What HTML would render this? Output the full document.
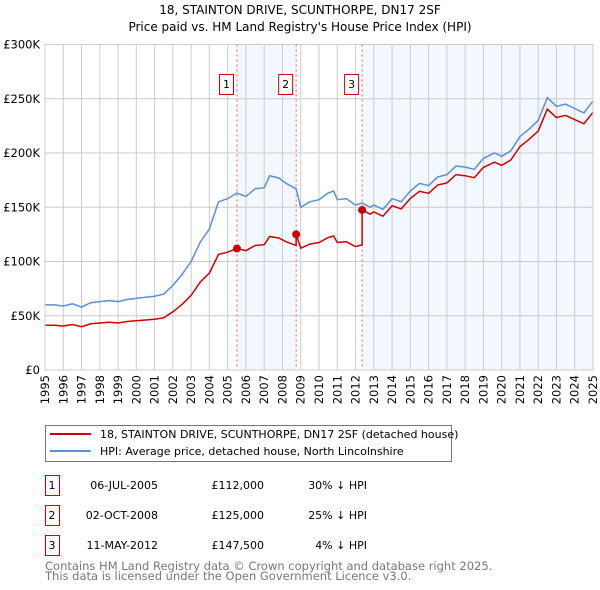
<!DOCTYPE html>
<html><head><meta charset="utf-8"><style>
body{margin:0;background:#fff;}
svg{display:block;font-family:"DejaVu Sans","Liberation Sans",sans-serif;}
</style></head><body>
<svg id="c" width="600" height="590" viewBox="0 0 600 590">
<text x="300" y="14" text-anchor="middle" font-size="12">18, STAINTON DRIVE, SCUNTHORPE, DN17 2SF</text>
<text x="300" y="31" text-anchor="middle" font-size="12">Price paid vs. HM Land Registry's House Price Index (HPI)</text>
<g id="plot"></g>
<g>
<rect x="45.5" y="425.5" width="406" height="36" fill="#fff" stroke="#777"/>
<line x1="50" y1="434" x2="91" y2="434" stroke="#cc0000" stroke-width="2"/>
<text x="100" y="438" font-size="11">18, STAINTON DRIVE, SCUNTHORPE, DN17 2SF (detached house)</text>
<line x1="50" y1="451" x2="91" y2="451" stroke="#5b8fd6" stroke-width="2"/>
<text x="100" y="455" font-size="11">HPI: Average price, detached house, North Lincolnshire</text>
</g>
<g id="table" font-size="11"></g>
<text x="45" y="570" font-size="11.5" fill="#777">Contains HM Land Registry data © Crown copyright and database right 2025.</text>
<text x="45" y="580" font-size="11.5" fill="#777">This data is licensed under the Open Government Licence v3.0.</text>
</svg>
<script>
const hpiYears=[1995,1995.5,1996,1996.5,1997,1997.5,1998,1998.5,1999,1999.5,2000,2000.5,2001,2001.5,2002,2002.5,2003,2003.5,2004,2004.5,2005,2005.5,2006,2006.5,2007,2007.3,2007.8,2008.2,2008.75,2009,2009.5,2010,2010.5,2010.8,2011,2011.5,2012,2012.36,2012.8,2013,2013.5,2014,2014.5,2015,2015.5,2016,2016.5,2017,2017.5,2018,2018.5,2019,2019.6,2020,2020.5,2021,2021.5,2022,2022.5,2023,2023.5,2024,2024.5,2025];
const hpiValues=[60,60,59,61,58,62,63,64,63,65,66,67,68,70,78,88,100,118,130,155,158,163,160,167,168,179,177,172,167,150,155,157,163,165,157,158,152,154,150,152,148,158,155,165,172,170,178,180,188,187,185,195,200,197,202,215,222,230,251,243,245,241,237,248];
const saleYears=[2005.51,2008.75,2012.36];
const salePrices=[112,125,147.5];
const saleDates=["06-JUL-2005","02-OCT-2008","11-MAY-2012"];
const salePriceLabels=["£112,000","£125,000","£147,500"];
const saleDiffs=["30% ↓ HPI","25% ↓ HPI","4% ↓ HPI"];
const yTicks=[0,50,100,150,200,250,300];
const yTickLabels=["£0","£50K","£100K","£150K","£200K","£250K","£300K"];
const xTicks=[];for(let y=1995;y<=2025;y++)xTicks.push(y);

const NS="http://www.w3.org/2000/svg";
const X0=45,X1=593,Y0=370,Y1=44.5;
const xs=y=>X0+(y-1995)*(X1-X0)/30;
const ys=v=>Y0-v*(Y0-Y1)/300;
function mk(tag,attrs,parent){const e=document.createElementNS(NS,tag);for(const k in attrs)e.setAttribute(k,attrs[k]);parent.appendChild(e);return e;}
const plot=document.getElementById('plot');
function hpiAt(t){for(let i=0;i<hpiYears.length-1;i++){if(t<=hpiYears[i+1]){const f=(t-hpiYears[i])/(hpiYears[i+1]-hpiYears[i]);return hpiValues[i]+f*(hpiValues[i+1]-hpiValues[i]);}}return hpiValues[hpiValues.length-1];}
[[0,1],[2,null]].forEach(([a,b])=>{
 const r=mk('rect',{x:xs(saleYears[a]),y:Y1,width:(b===null?X1:xs(saleYears[b]))-xs(saleYears[a]),height:Y0-Y1,fill:'#eef3fd',opacity:0.7},plot);
 
 
});
xTicks.forEach((t,i)=>{
 const l=mk('line',{x1:xs(t),x2:xs(t),y1:Y1,y2:Y0,stroke:'#ccc','stroke-width':1},plot);
 
 
 const tx=mk('text',{x:0,y:0,'text-anchor':'end','font-size':11.5,transform:'translate('+(xs(t)+4).toFixed(1)+',375) rotate(-90)'},plot);
 
 
 tx.textContent=t;
});
yTicks.forEach((v,i)=>{
 const l=mk('line',{x1:X0,x2:X1,y1:ys(v),y2:ys(v),stroke:'#ccc','stroke-width':1},plot);
 
 
 const tx=mk('text',{x:40,y:ys(v)+4,'text-anchor':'end','font-size':11.5},plot);
 
 
 tx.textContent=yTickLabels[i];
});
saleYears.forEach((s,i)=>{
 const l=mk('line',{x1:xs(s),x2:xs(s),y1:Y1,y2:Y0,stroke:'#e55','stroke-width':1,'stroke-dasharray':'2,3'},plot);
 
 
 const bx=xs(s)-17;
 const r=mk('rect',{x:bx-0.5,y:74.5,width:14,height:20,fill:'#fff',stroke:'#cc0000'},plot);
 
 
 const t=mk('text',{x:bx+6.5,y:88,'text-anchor':'middle','font-size':11},plot);
 
 
 t.textContent=i+1;
});
let d='';hpiYears.forEach((t,i)=>{d+=(i?'L':'M')+xs(t).toFixed(1)+','+ys(hpiValues[i]).toFixed(1);});
const hp=mk('path',{d:d,fill:'none',stroke:'#5b8fd6','stroke-width':1.5},plot);


function ratioAt(t){let k=-1;for(let i=0;i<saleYears.length;i++)if(t>=saleYears[i])k=i;const j=k<0?0:k;return salePrices[j]/hpiAt(saleYears[j]);}
let times=hpiYears.slice();saleYears.forEach(s=>{times.push(s-0.001);times.push(s);});times.sort((a,b)=>a-b);
let d2='';times.forEach((t,i)=>{d2+=(i?'L':'M')+xs(t).toFixed(1)+','+ys(hpiAt(t)*ratioAt(t)).toFixed(1);});
const rp=mk('path',{d:d2,fill:'none',stroke:'#cc0000','stroke-width':1.5},plot);


saleYears.forEach((s,i)=>{
 const c=mk('circle',{cx:xs(s),cy:ys(salePrices[i]),r:4,fill:'#cc0000'},plot);
 
 
});
const bd=mk('rect',{x:X0,y:Y1,width:X1-X0,height:Y0-Y1,fill:'none',stroke:'#ccc'},plot);


const tb=document.getElementById('table');
saleYears.forEach((s,i)=>{
 const y0=475+i*30;
 const r=mk('rect',{x:45.5,y:y0+0.5,width:14,height:20,fill:'#fff',stroke:'#cc0000'},tb);
 
 
 const cells=[[52,'middle',String(i+1)],[158,'end',saleDates[i]],[264,'end',salePriceLabels[i]],[367,'end',saleDiffs[i]]];
 cells.forEach(c=>{
  const t=mk('text',{x:c[0],y:y0+14,'text-anchor':c[1]},tb);
  
  
  t.textContent=c[2];
 });
});
</script>
</body></html>
